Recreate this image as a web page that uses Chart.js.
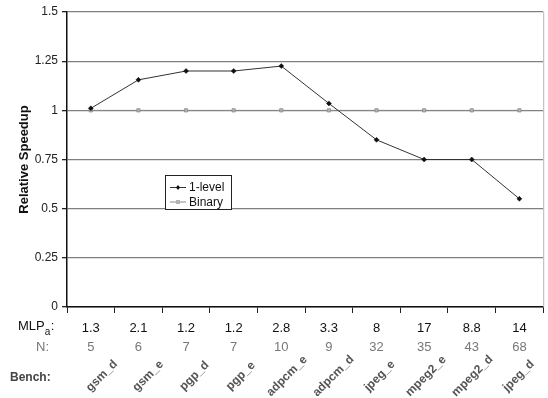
<!DOCTYPE html>
<html>
<head>
<meta charset="utf-8">
<script src="https://cdn.jsdelivr.net/npm/chart.js@4/dist/chart.umd.min.js"></script>
<style>
  html, body { margin: 0; padding: 0; background: #fff; }
  #wrap { width: 548px; height: 398px; }
</style>
</head>
<body>
<div id="wrap"><canvas id="c" width="548" height="398"></canvas></div>
<script>
// Benchmarks and their per-benchmark annotations
const benches = ['gsm_d', 'gsm_e', 'pgp_d', 'pgp_e', 'adpcm_e', 'adpcm_d', 'jpeg_e', 'mpeg2_e', 'mpeg2_d', 'jpeg_d'];
const mlpA = ['1.3', '2.1', '1.2', '1.2', '2.8', '3.3', '8', '17', '8.8', '14'];
const nValues = ['5', '6', '7', '7', '10', '9', '32', '35', '43', '68'];

// Relative speedup of each predictor
const oneLevel = [1.01, 1.155, 1.20, 1.20, 1.225, 1.035, 0.85, 0.75, 0.75, 0.55];
const binary = [1, 1, 1, 1, 1, 1, 1, 1, 1, 1];

// Y axis ticks
const yTicks = [0, 0.25, 0.5, 0.75, 1, 1.25, 1.5];

const FONT = "'Liberation Sans', Arial, Helvetica, sans-serif";
Chart.defaults.font.family = FONT;

// Draws the MLPa / N / Bench rows under the axis, the frame edge and the legend box
const annotations = {
  id: 'annotations',
  afterDraw(chart) {
    const ctx = chart.ctx;
    const xs = chart.scales.x;
    const area = chart.chartArea;
    ctx.save();

    // light right edge of the plot frame
    ctx.strokeStyle = '#b5b5b5';
    ctx.lineWidth = 1;
    ctx.beginPath();
    ctx.moveTo(area.right + 0.5, area.top);
    ctx.lineTo(area.right + 0.5, area.bottom);
    ctx.stroke();

    // row headers
    ctx.textBaseline = 'middle';
    ctx.textAlign = 'left';
    ctx.fillStyle = '#111';
    ctx.font = '13px ' + FONT;
    ctx.fillText('MLP', 18, 326);
    const w = ctx.measureText('MLP').width;
    ctx.font = '10px ' + FONT;
    ctx.fillText('a', 18 + w, 332);
    const wa = ctx.measureText('a').width;
    ctx.font = '13px ' + FONT;
    ctx.fillText(':', 18 + w + wa + 0.5, 326);

    ctx.fillStyle = '#777';
    ctx.fillText('N:', 36, 347);

    ctx.fillStyle = '#444';
    ctx.font = 'bold 12px ' + FONT;
    ctx.fillText('Bench:', 10, 378);

    // per-benchmark values
    ctx.textAlign = 'center';
    ctx.font = '13px ' + FONT;
    ctx.fillStyle = '#111';
    mlpA.forEach((v, i) => ctx.fillText(v, xs.getPixelForValue(i), 328));
    ctx.fillStyle = '#777';
    nValues.forEach((v, i) => ctx.fillText(v, xs.getPixelForValue(i), 347));

    // slanted benchmark names; their step is a little tighter than the category step
    ctx.fillStyle = '#555';
    ctx.font = 'bold 12px ' + FONT;
    benches.forEach((b, i) => {
      ctx.save();
      ctx.translate(xs.getPixelForValue(i) + 11 - 1.3 * i, 376);
      ctx.rotate(-Math.PI / 4);
      ctx.fillText(b, 0, 0);
      ctx.restore();
    });

    // legend box
    const lx = 165, ly = 175, lw = 66, lh = 34;
    ctx.fillStyle = '#fff';
    ctx.fillRect(lx, ly, lw, lh);
    ctx.strokeStyle = '#222';
    ctx.lineWidth = 1;
    ctx.strokeRect(lx + 0.5, ly + 0.5, lw, lh);
    ctx.textAlign = 'left';
    ctx.font = '12px ' + FONT;
    chart.data.datasets.forEach((ds, i) => {
      const y = ly + 12 + i * 14.5;
      ctx.strokeStyle = ds.borderColor;
      ctx.lineWidth = 1;
      ctx.beginPath();
      ctx.moveTo(lx + 5, y + 0.5);
      ctx.lineTo(lx + 21, y + 0.5);
      ctx.stroke();
      ctx.fillStyle = ds.pointBackgroundColor;
      if (ds.pointStyle === 'rectRot') {
        ctx.beginPath();
        ctx.moveTo(lx + 13, y - 2);
        ctx.lineTo(lx + 15, y + 0.5);
        ctx.lineTo(lx + 13, y + 3);
        ctx.lineTo(lx + 11, y + 0.5);
        ctx.closePath();
        ctx.fill();
      } else {
        ctx.fillRect(lx + 11, y - 1.5, 4, 4);
      }
      ctx.fillStyle = '#111';
      ctx.fillText(ds.label, lx + 24, y + 1);
    });

    ctx.restore();
  }
};

new Chart(document.getElementById('c'), {
  type: 'line',
  data: {
    labels: benches,
    datasets: [
      {
        label: '1-level',
        data: oneLevel,
        borderColor: '#333',
        borderWidth: 1,
        pointStyle: 'rectRot',
        pointRadius: 2.5,
        pointBackgroundColor: '#111',
        pointBorderColor: '#111',
        pointBorderWidth: 0.5,
        tension: 0
      },
      {
        label: 'Binary',
        data: binary,
        borderColor: '#8a8a8a',
        borderWidth: 1,
        borderDash: [2, 1],
        pointStyle: 'rect',
        pointRadius: 2.3,
        pointBackgroundColor: '#b4b4b4',
        pointBorderColor: '#8a8a8a',
        pointBorderWidth: 0.8,
        tension: 0
      }
    ]
  },
  options: {
    responsive: false,
    animation: false,
    devicePixelRatio: 1,
    layout: { padding: { top: 12, right: 3, left: 0, bottom: 0 } },
    plugins: { legend: { display: false }, tooltip: { enabled: false } },
    scales: {
      x: {
        offset: true,
        grid: { offset: true, drawOnChartArea: false, tickLength: 6, tickColor: '#222', lineWidth: 1 },
        border: { color: '#111', width: 1.5 },
        ticks: { display: false },
        afterFit(s) { s.height = 91; }
      },
      y: {
        min: 0,
        max: 1.5,
        afterBuildTicks(s) { s.ticks = yTicks.map(v => ({ value: v })); },
        grid: { color: '#808080', lineWidth: 1.3, tickLength: 5, tickColor: '#222' },
        border: { color: '#111', width: 1.5 },
        ticks: { font: { size: 12 }, color: '#222', padding: 4, callback: v => String(v) },
        title: {
          display: true,
          text: 'Relative Speedup',
          font: { size: 13, weight: 'bold' },
          color: '#111',
          padding: { top: 17, bottom: 0 }
        },
        afterFit(s) { s.width = 67; }
      }
    }
  },
  plugins: [annotations]
});
</script>
</body>
</html>
